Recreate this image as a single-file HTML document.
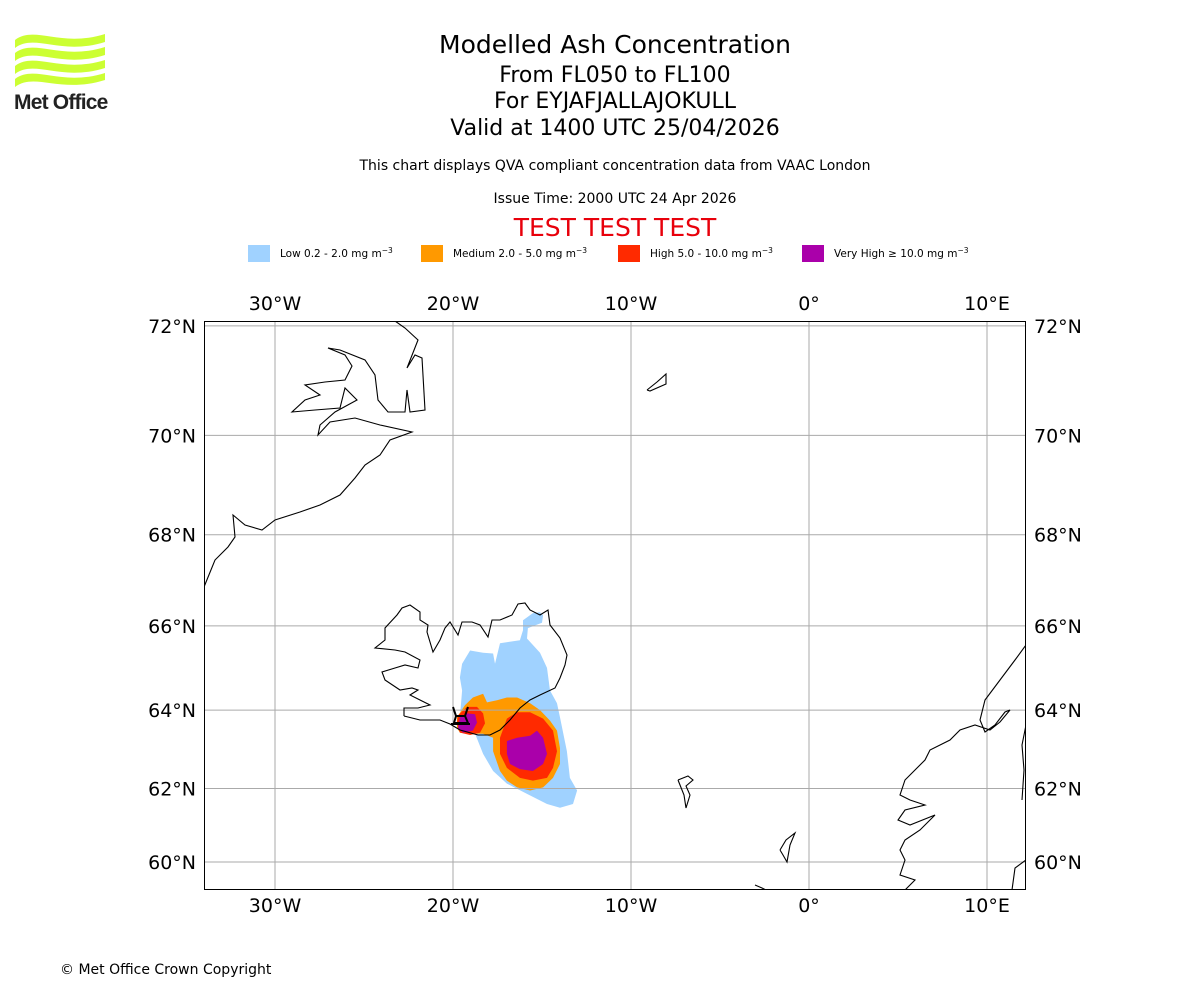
<!DOCTYPE html>
<html><head><meta charset="utf-8">
<style>
html,body{margin:0;padding:0;background:#fff;}
body{width:1200px;height:1000px;position:relative;overflow:hidden;font-family:"DejaVu Sans","Liberation Sans",sans-serif;}
.t{position:absolute;left:0;width:1230px;text-align:center;color:#000;white-space:nowrap;}
</style></head>
<body>
<svg style="position:absolute;left:0;top:0" width="130" height="120">
  <g fill="#ccff33">
    <path d="M15,40 C35,25 60,48 105,34 L105,42 C60,56 35,33 15,48 Z"/>
    <path d="M15,53 C35,38 60,61 105,47 L105,55 C60,69 35,46 15,61 Z"/>
    <path d="M15,66 C35,51 60,74 105,60 L105,68 C60,82 35,59 15,74 Z"/>
    <path d="M15,79 C35,64 60,87 105,73 L105,80 C60,94 35,72 15,87 Z"/>
  </g>
  <text x="14" y="109" font-family="Liberation Sans, sans-serif" font-weight="bold" font-size="21" letter-spacing="-0.8" fill="#222">Met Office</text>
</svg>

<div class="t" style="top:30px;font-size:25px">Modelled Ash Concentration</div>
<div class="t" style="top:63px;font-size:22px">From FL050 to FL100</div>
<div class="t" style="top:89px;font-size:22px">For EYJAFJALLAJOKULL</div>
<div class="t" style="top:116px;font-size:22px">Valid at 1400 UTC 25/04/2026</div>
<div class="t" style="top:158px;font-size:14px">This chart displays QVA compliant concentration data from VAAC London</div>
<div class="t" style="top:191px;font-size:14px">Issue Time: 2000 UTC 24 Apr 2026</div>
<div class="t" style="top:213px;font-size:25px;color:#e8000b">TEST TEST TEST</div>

<svg id="legend" style="position:absolute;left:0;top:240px" width="1200" height="30"></svg>
<svg id="map" style="position:absolute;left:0;top:0" width="1200" height="1000"></svg>

<div style="position:absolute;left:60px;top:962px;font-size:14px">© Met Office Crown Copyright</div>

<script>
const NS="http://www.w3.org/2000/svg";
const legendLabels=["Low 0.2 - 2.0 mg m","Medium 2.0 - 5.0 mg m","High 5.0 - 10.0 mg m","Very High \u2265 10.0 mg m"];
const legendColors=["#a0d2ff","#ff9900","#ff2a00","#aa00aa"];
const legendX=[248,421,618,802];
const lonTicks=[-30,-20,-10,0,10];
const lonLabels=["30°W","20°W","10°W","0°","10°E"];
const latTicks=[60,62,64,66,68,70,72];
const latLabels=["60°N","62°N","64°N","66°N","68°N","70°N","72°N"];
const lowAsh=[[-19.49,65.12],[-19.04,65.43],[-18.31,65.38],[-17.75,65.36],[-17.64,65.12],[-17.36,65.60],[-16.24,65.67],[-16.07,65.90],[-16.07,66.13],[-15.51,66.29],[-15.11,66.31],[-14.94,66.24],[-15.0,66.07],[-15.79,65.95],[-15.84,65.71],[-15.11,65.38],[-14.72,65.02],[-14.55,64.48],[-14.16,64.17],[-13.99,63.82],[-13.6,62.97],[-13.43,62.28],[-13.03,61.95],[-13.26,61.59],[-13.99,61.49],[-14.72,61.59],[-15.84,61.86],[-16.97,62.13],[-17.75,62.46],[-18.31,62.90],[-18.76,63.41],[-19.04,63.69],[-19.61,63.82],[-19.49,64.48],[-19.61,64.79]];
const mediumAsh=[[-19.33,64.12],[-18.88,64.31],[-18.31,64.40],[-18.09,64.19],[-17.53,64.24],[-16.97,64.31],[-16.40,64.31],[-15.67,64.17],[-15.11,64.0],[-14.55,63.74],[-14.16,63.49],[-13.99,63.05],[-13.99,62.64],[-14.38,62.28],[-14.94,62.03],[-15.67,61.95],[-16.40,62.03],[-16.97,62.21],[-17.36,62.46],[-17.75,62.97],[-17.75,63.31],[-18.31,63.41],[-18.88,63.41],[-19.61,63.44],[-19.78,63.56],[-19.78,63.82]];
const highAshWest=[[-19.72,63.87],[-19.21,64.08],[-18.65,64.08],[-18.31,63.92],[-18.2,63.67],[-18.48,63.44],[-19.04,63.38],[-19.61,63.44],[-19.78,63.67]];
const highAshEast=[[-16.97,63.79],[-16.40,63.95],[-15.67,63.95],[-14.94,63.79],[-14.38,63.49],[-14.16,62.97],[-14.38,62.54],[-14.72,62.28],[-15.51,62.21],[-16.24,62.28],[-16.97,62.54],[-17.36,62.90],[-17.36,63.31]];
const vhighAshWest=[[-19.61,63.82],[-19.21,63.92],[-18.76,63.90],[-18.65,63.69],[-18.88,63.49],[-19.44,63.44],[-19.72,63.56]];
const vhighAshEast=[[-16.97,63.23],[-16.40,63.31],[-15.67,63.36],[-15.28,63.49],[-14.94,63.31],[-14.72,62.90],[-14.94,62.64],[-15.51,62.46],[-16.24,62.51],[-16.80,62.64],[-16.97,62.90]];

const X0=204,X1=1026,Y0=321,Y1=890;
function xOf(lon){return 809+lon*17.8;}
function merc(l){return Math.log(Math.tan(Math.PI/4+l*Math.PI/360));}
function yOf(lat){return 862-(merc(lat)-merc(60))*1019.6;}
function mk(p,tag,attrs){const e=document.createElementNS(NS,tag);for(const k in attrs)e.setAttribute(k,attrs[k]);p.appendChild(e);return e;}

const lg=document.getElementById('legend');
legendLabels.forEach((lab,i)=>{
  const r=mk(lg,'rect',{x:legendX[i],y:5,width:22,height:17,fill:legendColors[i]});
  
  
  const t=mk(lg,'text',{x:legendX[i]+32,y:17,'font-size':10.5,fill:'#000'});
  t.textContent=lab;
  const s=mk(t,'tspan',{dy:-4,'font-size':7.5});s.textContent='\u22123';
  
  
});

const m=document.getElementById('map');
const defs=mk(m,'defs',{});
const cp=mk(defs,'clipPath',{id:'clip'});
mk(cp,'rect',{x:X0,y:Y0,width:X1-X0,height:Y1-Y0});
const g=mk(m,'g',{'clip-path':'url(#clip)'});

function poly(arr,color,name){
  const p=mk(g,'polygon',{points:arr.map(d=>xOf(d[0]).toFixed(1)+','+yOf(d[1]).toFixed(1)).join(' '),fill:color});
  
  
}
poly(lowAsh,legendColors[0],'ash-low');
poly(mediumAsh,legendColors[1],'ash-medium');
poly(highAshWest,legendColors[2],'ash-high-west');
poly(highAshEast,legendColors[2],'ash-high-east');
poly(vhighAshWest,legendColors[3],'ash-very-high-west');
poly(vhighAshEast,legendColors[3],'ash-very-high-east');

lonTicks.forEach(l=>{const e=mk(g,'line',{x1:xOf(l),x2:xOf(l),y1:Y0,y2:Y1,stroke:'#aaa','stroke-width':1});});
latTicks.forEach(l=>{const e=mk(g,'line',{x1:X0,x2:X1,y1:yOf(l),y2:yOf(l),stroke:'#aaa','stroke-width':1});});

const coasts={
 'greenland-coast':"204,587 215,560 228,547 235,537 233,515 245,525 262,530 275,520 300,512 320,505 340,495 355,478 365,465 380,455 390,440 412,432 380,425 355,418 330,422 318,435 320,425 335,412 357,400 345,388 340,408 315,410 292,412 305,400 320,395 305,385 325,382 345,380 352,366 345,355 328,348 340,350 365,360 375,375 378,400 388,412 405,412 407,390 410,412 425,410 422,358 415,355 407,368 418,340 405,328 395,321",
 'iceland-coast':"404,716 404,708 418,708 430,705 420,700 410,695 418,690 412,688 400,690 385,680 382,672 395,668 405,665 418,668 420,660 405,652 395,650 375,648 385,640 385,628 397,615 402,608 410,605 420,612 420,620 428,625 427,632 433,652 440,640 445,628 450,622 458,635 462,622 472,622 480,625 488,637 492,620 500,620 512,615 518,604 525,603 530,610 540,615 548,610 550,625 560,638 567,655 565,665 560,678 555,688 540,695 530,700 520,708 510,720 500,730 490,735 478,735 460,730 450,724 440,720 420,720 404,716",
 'norway-coast':"1026,645 1015,660 1000,680 985,700 980,720 985,732 995,725 1005,712 1010,710 1000,722 990,730 975,725 960,730 950,740 930,750 925,760 915,770 905,780 900,795 910,800 925,805 905,810 898,820 910,825 935,815 920,830 905,840 900,850 905,860 900,875 915,880 905,890",
 'sweden-coast':"1026,725 1022,745 1024,770 1022,800",
 'denmark-coast':"1026,860 1015,868 1012,890",
 'jan-mayen':"647,390 657,382 666,374 666,384 650,391 647,390",
 'faroes':"678,780 688,776 693,780 686,786 690,795 686,808 684,795 680,785 678,780",
 'shetland':"780,850 786,840 795,833 790,845 787,862 783,855 780,850",
 'scotland-north':"755,885 762,888 766,890"
};
for(const k in coasts){
  const e=mk(g,'polyline',{points:coasts[k],fill:'none',stroke:'#000','stroke-width':1.1});
  
  
}
const vm=mk(g,'path',{d:'M453,707 L456,716 L454,723 L468,723 L465,716 L468,707 M456,716 L465,716 M451,724 L470,724',fill:'none',stroke:'#000','stroke-width':2});



const fr=mk(m,'rect',{x:X0+0.5,y:Y0+0.5,width:X1-X0-1,height:Y1-Y0-1,fill:'none',stroke:'#000','stroke-width':1});



lonTicks.forEach((l,i)=>{
  [310,912].forEach(y=>{
    const t=mk(m,'text',{x:xOf(l),y:y,'text-anchor':'middle','font-size':19,fill:'#000'});
    t.textContent=lonLabels[i];
    
    
  });
});
latTicks.forEach((l,i)=>{
  const t1=mk(m,'text',{x:196,y:yOf(l)+7,'text-anchor':'end','font-size':19,fill:'#000'});
  t1.textContent=latLabels[i];
  
  
  const t2=mk(m,'text',{x:1034,y:yOf(l)+7,'text-anchor':'start','font-size':19,fill:'#000'});
  t2.textContent=latLabels[i];
  
  
});
</script>
</body></html>
